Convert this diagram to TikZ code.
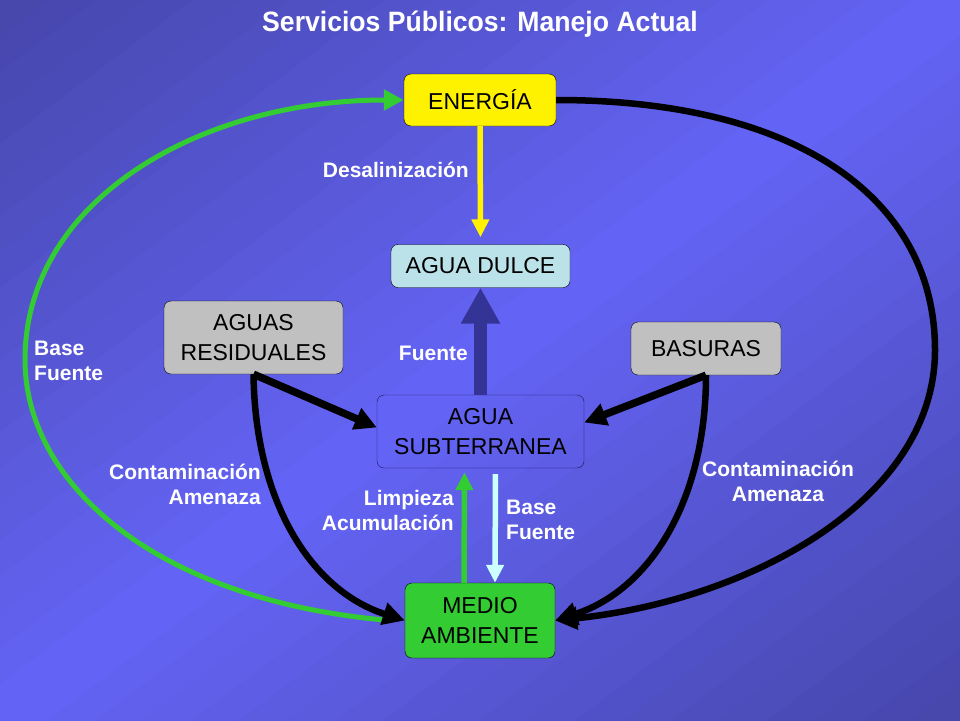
\documentclass[tikz,border=0pt]{standalone}
\usepackage{fontspec}
\setmainfont{Liberation Sans}
\newfontfamily\titulo[FakeStretch=0.95]{Liberation Sans}
\usetikzlibrary{arrows.meta}
\definecolor{fondoA}{RGB}{70,70,170}
\definecolor{fondoB}{RGB}{100,100,246}
\definecolor{azulF}{RGB}{52,52,150}
\definecolor{azulO}{RGB}{20,20,90}
\definecolor{verde}{RGB}{51,204,51}
\definecolor{celeste}{RGB}{186,226,232}
\definecolor{gris}{RGB}{192,192,192}
\definecolor{hielo}{RGB}{204,255,255}
\begin{document}
\begin{tikzpicture}[x=1pt, y=-1pt, line join=round,
	caja/.style={draw=black, rounded corners=7pt, align=center, inner sep=0pt, font=\fontsize{23}{29.5}\selectfont},
	etiq/.style={text=white, inner sep=0pt, font=\bfseries\fontsize{21}{25}\selectfont},
	negra/.style={line width=6.5pt, -{Triangle[length=22pt,width=22pt]}},
	fina/.style={line width=5.5pt, -{Triangle[length=18pt,width=17pt]}}]
	\def\W{960} % ancho
	\def\H{720} % alto
	\def\n{40} % franjas del fondo
	\useasboundingbox (0,0) rectangle (\W,\H);
	\begin{scope}
		\clip (0,0) rectangle (\W,\H);
		\foreach \i in {1,...,\n}{
			\pgfmathsetmacro{\sa}{2*(\i-1)/\n}
			\pgfmathsetmacro{\sb}{2*\i/\n+0.003}
			\pgfmathtruncatemacro{\p}{100*abs(1-(2*\i-1)/\n)}
			\fill[fondoA!\p!fondoB] (\W*\sa,0) -- (\W*\sb,0) -- (0,\H*\sb) -- (0,\H*\sa) -- cycle;
		}
	\end{scope}
	\node[text=white, inner sep=0pt, font=\titulo\bfseries\fontsize{28}{30}\selectfont] (tit) at (480,24) {Servicios Públicos: Manejo Actual};
	% cajas
	\node[caja, fill=yellow, minimum width=152pt, minimum height=52pt] (ene) at (480,100) {ENERGÍA};
	\node[caja, fill=celeste, minimum width=179pt, minimum height=43pt] (dul) at (480.5,266) {AGUA DULCE};
	\node[caja, fill=gris, minimum width=179pt, minimum height=73pt] (res) at (253.5,337.5) {AGUAS\\RESIDUALES};
	\node[caja, fill=gris, minimum width=150pt, minimum height=53pt] (bas) at (706,348.5) {BASURAS};
	\node[caja, draw=azulO, minimum width=207pt, minimum height=73pt] (sub) at (480.5,431.5) {AGUA\\SUBTERRANEA};
	\node[caja, fill=verde, minimum width=150pt, minimum height=75pt] (med) at (480,620.5) {MEDIO\\AMBIENTE};
	% flechas
	\draw[fina, yellow, shorten >=7pt] (ene.south) -- (dul.north);
	\draw[azulF, line width=13pt, -{Triangle[length=36pt,width=37pt]}] (sub.north) -- (dul.south);
	\draw[fina, verde, shorten >=4pt] ([xshift=-16pt]med.north) -- ([xshift=-16pt]sub.south);
	\draw[fina, hielo, shorten <=6pt] ([xshift=15pt]sub.south) -- ([xshift=15pt]med.north);
	\draw[verde, line width=5pt, -{Triangle[length=20pt,width=20pt]}] ([xshift=-15pt]med.west) .. controls (150,600) and (25,480) .. (25,360) .. controls (25,200) and (200,100) .. (ene.west);
	\draw[negra, line width=7.5pt] (res.south) -- ([yshift=4pt]sub.west);
	\draw[negra, line width=7.5pt] (bas.south) -- ([yshift=9pt]sub.east);
	\draw[negra] (res.south) .. controls (255,500) and (310,590) .. (med.west);
	\draw[negra] (bas.south) .. controls (706,500) and (650,590) .. (med.east);
	\draw[negra] (ene.east) .. controls (800,100) and (935,200) .. (935,350) .. controls (935,500) and (750,600) .. (med.east);
	% textos
	\node[etiq, anchor=east] (des) at (469,170) {Desalinización};
	\node[etiq, anchor=east] (fue) at (468,353) {Fuente};
	\node[etiq, anchor=west, align=left] (bf1) at (34,360.5) {Base\\Fuente};
	\node[etiq, anchor=east, align=right] (ca1) at (261,484.5) {Contaminación\\Amenaza};
	\node[etiq, align=center] (ca2) at (778,481) {Contaminación\\Amenaza};
	\node[etiq, anchor=east, align=right] (lim) at (454,510.5) {Limpieza\\Acumulación};
	\node[etiq, anchor=west, align=left] (bf2) at (506,519.5) {Base\\Fuente};
\end{tikzpicture}
\end{document}
